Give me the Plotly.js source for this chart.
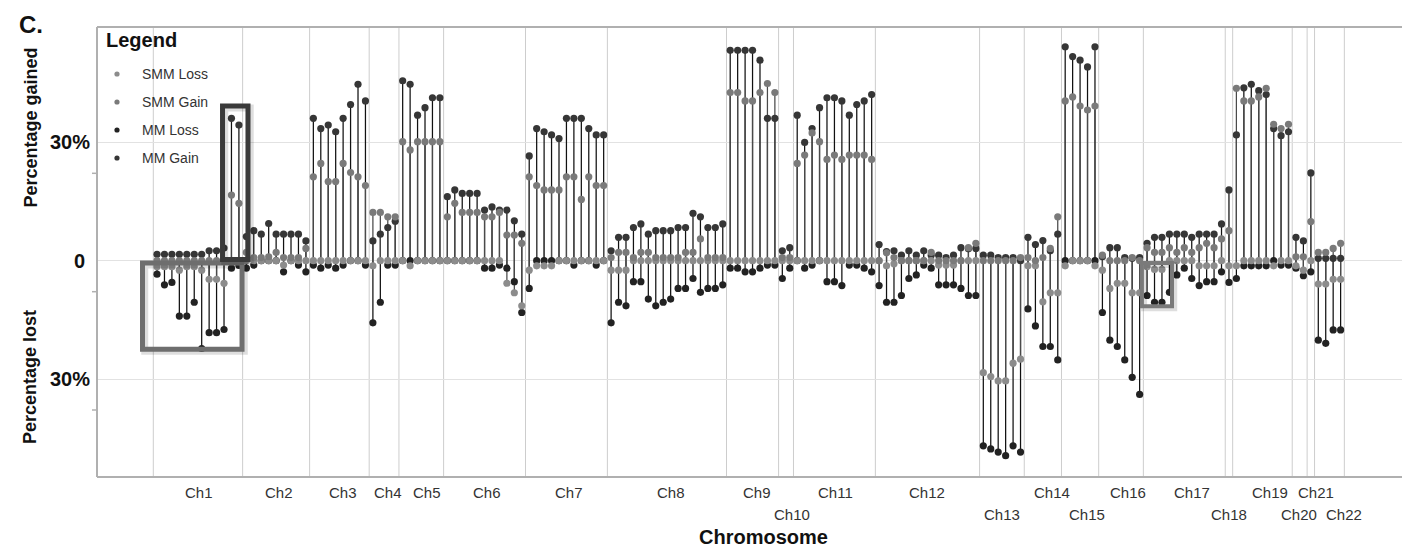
<!DOCTYPE html>
<html><head><meta charset="utf-8">
<script src="https://cdn.plot.ly/plotly-3.0.1.min.js"></script>
<style>html,body{margin:0;padding:0;background:#fff;} #chart{width:1402px;height:552px;}</style>
</head><body><div id="chart"></div>
<script>
// ---------------- DATA ----------------
const chromNames = ['Ch1','Ch2','Ch3','Ch4','Ch5','Ch6','Ch7','Ch8','Ch9','Ch10','Ch11',
  'Ch12','Ch13','Ch14','Ch15','Ch16','Ch17','Ch18','Ch19','Ch20','Ch21','Ch22'];
const chromSizes = [12,9,8,4,6,11,11,16,7,2,11,14,6,5,5,6,11,1,8,2,1,4];
const seriesNames = ['SMM Loss','SMM Gain','MM Loss','MM Gain'];
const yTickVals = [30, 0, -30];
const yTickText = ['30%', '0', '30%'];

const smmLoss = [
  -1.5,-1.5,-1.5,-2.4,-1.5,-1.5,-2.4,-4.7,-4.7,-5.7,0,0,          // Ch1
  0,0,0,0,0,-1.1,0,0,0,                                          // Ch2
  0,0,0,0,0,0,0,0,                                               // Ch3
  -1.3,0,0,0,                                                    // Ch4
  0,-1.3,0,0,0,0,                                                // Ch5
  0,0,0,0,0,0,0,0,-5.7,-8.1,-11.4,                               // Ch6
  -2.4,-1.3,-1.3,-1.3,0,0,0,0,0,0,0,                             // Ch7
  -2.4,-2.4,-2.4,0,0,0,0,0,0,0,0,0,0,0,0,0,                      // Ch8
  0,0,0,0,0,0,0,                                                 // Ch9
  0,0,                                                           // Ch10
  0,0,0,0,0,0,0,0,0,0,0,                                         // Ch11
  0,-1.3,-0.8,0,0,0,0,0,-1.1,-1.1,-1.1,0,0,0,                    // Ch12
  -28.3,-29.3,-30.4,-30.4,-25.9,-24.9,                           // Ch13
  -1.3,-1.3,-10.4,-8.1,-8.1,                                     // Ch14
  -1.3,0,0,0,-1.3,                                               // Ch15
  -2.4,-7.0,-5.7,-5.7,-8.1,-8.1,                                 // Ch16
  -1.5,-2.2,-2.2,0,0,0,0,-1.3,-1.3,-1.3,0,                       // Ch17
  -1.3,                                                          // Ch18
  -1.3,0,0,0,0,-1.3,0,0,                                         // Ch19
  -1.3,-2.4,                                                     // Ch20
  0,                                                             // Ch21
  -5.9,-5.9,-4.7,-4.7                                            // Ch22
];
const smmGain = [
  0,0,0,0,0,0,0,0,0,0,16.6,14.5,                                 // Ch1
  2.1,0.8,0.8,1.0,2.1,0.8,0.8,0.8,3.1,                           // Ch2
  21.2,24.6,20.0,20.0,24.6,22.3,21.2,19.0,                       // Ch3
  12.2,12.2,11.1,11.1,                                           // Ch4
  30.1,28.0,30.1,30.1,30.1,30.1,                                 // Ch5
  11.1,14.5,12.2,12.2,12.2,11.1,11.1,12.2,6.5,6.5,4.4,           // Ch6
  21.2,19.0,17.9,17.9,17.9,21.2,21.2,15.5,21.2,19.0,19.0,        // Ch7
  0.8,2.1,2.1,0.8,2.1,2.1,0.8,0.8,0.8,0.8,2.1,2.1,5.5,0.8,0.8,0.8, // Ch8
  42.5,42.5,40.4,40.4,42.5,44.8,42.5,                            // Ch9
  0.8,0.8,                                                       // Ch10
  24.6,26.7,32.3,30.1,25.6,26.7,25.6,26.7,26.7,26.7,25.6,        // Ch11
  0,2.0,0.8,0,0,0,0,2.1,0,0,0,0,3.3,4.4,                         // Ch12
  0,0,0,0,0,0.8,                                                 // Ch13
  0.8,0,0.8,3.1,11.1,                                            // Ch14
  40.4,41.4,39.1,38.1,39.1,                                      // Ch15
  1.4,0,0,0,0.8,0,                                               // Ch16
  3.3,2.1,2.1,3.3,2.1,3.3,2.1,3.3,4.4,3.3,5.5,                   // Ch17
  7.6,                                                           // Ch18
  43.6,40.4,40.4,41.4,43.6,34.5,33.4,34.5,                       // Ch19
  1.0,1.0,                                                       // Ch20
  9.9,                                                           // Ch21
  2.1,2.1,3.1,4.4                                                // Ch22
];
const mmLoss = [
  -3.4,-6.1,-5.5,-14.0,-14.0,-10.5,-22.2,-18.2,-18.2,-17.4,-1.9,-1.2, // Ch1
  -1.9,-1.1,0,0,0,-2.8,0,-1.1,-2.8,                              // Ch2
  -1.1,-1.9,-1.1,-1.9,-1.1,0,0,-1.1,                             // Ch3
  -15.7,-10.5,-1.1,-1.1,                                         // Ch4
  0,0,0,0,0,0,                                                   // Ch5
  0,0,0,0,0,-1.9,-1.9,-1.1,-1.9,-5.3,-13.1,                      // Ch6
  -7.0,0,0,0,0,0,-1.1,0,0,-1.1,0,                                // Ch7
  -15.7,-10.5,-11.4,-5.3,-5.3,-9.7,-11.4,-10.5,-9.7,-7.0,-7.0,-4.5,-8.0,-7.0,-7.0,-6.1, // Ch8
  -1.9,-1.9,-2.8,-2.8,-1.9,-1.1,-1.1,                            // Ch9
  -4.5,-1.9,                                                     // Ch10
  0,-1.9,-1.1,0,-5.3,-5.3,-6.3,-1.1,-1.1,-1.9,-2.8,              // Ch11
  -6.3,-10.5,-10.5,-8.8,-4.5,-3.6,-1.1,-1.9,-6.1,-6.1,-6.1,-7.0,-8.8,-8.8, // Ch12
  -46.8,-47.6,-48.4,-49.3,-46.8,-48.4,                           // Ch13
  -12.2,-16.5,-21.7,-21.7,-25.1,                                 // Ch14
  0,0,0,0,0,                                                     // Ch15
  -13.1,-20.1,-21.7,-25.1,-29.5,-33.8,                           // Ch16
  -8.8,-10.5,-10.5,-8.0,-3.6,-1.9,-4.5,-6.3,-5.3,-5.3,-2.8,      // Ch17
  -5.5,                                                          // Ch18
  -4.5,-1.3,-1.3,-1.3,-1.3,0,-1.1,-1.1,                          // Ch19
  -1.9,-3.8,                                                     // Ch20
  -2.8,                                                          // Ch21
  -20.1,-20.9,-17.5,-17.5                                        // Ch22
];
const mmGain = [
  1.6,1.6,1.6,1.6,1.6,1.6,1.6,2.5,2.5,3.2,36.0,34.3,             // Ch1
  6.1,7.6,6.7,9.4,6.7,6.7,6.7,6.7,5.0,                           // Ch2
  36.0,33.4,34.3,32.6,36.0,39.5,44.6,40.4,                       // Ch3
  5.0,6.7,8.4,10.0,                                              // Ch4
  45.5,44.6,36.8,38.7,41.2,41.2,                                 // Ch5
  16.2,17.9,17.0,17.0,17.0,12.8,13.6,12.8,12.8,10.1,6.7,         // Ch6
  26.5,33.4,32.6,31.8,30.9,36.0,36.0,36.0,33.4,31.8,31.8,        // Ch7
  2.5,5.9,5.9,8.4,9.3,6.7,7.6,7.6,7.6,8.4,8.4,12.0,11.1,8.4,8.4,9.3, // Ch8
  53.2,53.2,53.2,53.2,50.7,36.0,36.0,                            // Ch9
  2.5,3.3,                                                       // Ch10
  36.8,29.9,33.4,38.7,41.2,41.2,40.4,36.8,39.5,40.4,42.0,        // Ch11
  4.1,2.3,2.5,1.4,2.5,1.4,2.5,1.4,1.4,0.8,1.4,3.3,3.0,3.1,       // Ch12
  1.4,1.4,0.8,0.8,0.8,0,                                         // Ch13
  5.9,4.1,5.1,2.5,6.7,                                           // Ch14
  54.1,51.6,50.7,49.0,54.1,                                      // Ch15
  1.0,3.3,3.3,0.8,0.6,0.8,                                       // Ch16
  4.4,5.9,5.9,6.7,6.7,6.7,5.9,6.7,6.7,6.7,9.3,                   // Ch17
  17.9,                                                          // Ch18
  31.8,43.7,44.6,43.0,42.0,33.4,31.6,32.6,                       // Ch19
  5.9,5.0,                                                       // Ch20
  22.2,                                                          // Ch21
  0.6,0.6,0.6,0.6                                                // Ch22
];

// ---------------- LAYOUT / STYLE ----------------
const W = 1402, H = 552;
const M = {l: 97, r: 0, t: 27, b: 75};
const PW = W - M.l - M.r, PH = H - M.t - M.b;
const slotPx = 7.444, firstSlotPx = 153.3;
const xRange = [-(firstSlotPx - M.l) / slotPx, (W - firstSlotPx) / slotPx];
const yRange = [-54.69, 59.09];
const FONT = 'Liberation Sans, Arial, Helvetica, sans-serif';
const colors = {smmLoss: '#8c8c8c', smmGain: '#7a7a7a', mmLoss: '#222222', mmGain: '#363636'};
const labelPx = [199,279,343,388,427,487,569,670.5,757,792,835.5,927,1001.5,1051.5,1087,1128,1192,1228.5,1270,1299,1316,1343.5];
const labelRow = [1,1,1,1,1,1,1,1,1,2,1,1,2,1,2,1,1,2,1,2,1,2];

const px2x = px => (px - M.l) / PW;
const px2y = py => 1 - (py - M.t) / PH;

const xs = []; const bounds = [0];
let k = 0;
chromSizes.forEach(n => { for (let i = 0; i < n; i++) xs.push(k + i + 0.5); k += n; bounds.push(k); });

function stems(arrs) {
  const x = [], y = [];
  arrs.forEach(vals => vals.forEach((v, i) => { x.push(xs[i], xs[i], null); y.push(0, v, null); }));
  return {x, y};
}
const mmSt = stems([mmGain, mmLoss]);
const smmSt = stems([smmGain, smmLoss]);

const mk = (i, arr, c) => ({type: 'scatter', mode: 'markers', name: seriesNames[i], x: xs, y: arr,
  marker: {color: c, size: 7.2}, showlegend: false, hoverinfo: 'skip'});
const traces = [
  {type: 'scatter', mode: 'lines', x: mmSt.x, y: mmSt.y, line: {color: '#111111', width: 1.25}, hoverinfo: 'skip', showlegend: false},
  {type: 'scatter', mode: 'lines', x: smmSt.x, y: smmSt.y, line: {color: '#4a4a4a', width: 1.25}, hoverinfo: 'skip', showlegend: false},
  mk(2, mmLoss, colors.mmLoss),
  mk(3, mmGain, colors.mmGain),
  mk(0, smmLoss, colors.smmLoss),
  mk(1, smmGain, colors.smmGain)
];

const shapes = [];
bounds.forEach(b => shapes.push({type: 'line', xref: 'x', yref: 'paper', x0: b, x1: b, y0: 0, y1: 1,
  line: {color: '#cdcdcd', width: 1}, layer: 'below'}));
const frameC = '#b0b0b0';
shapes.push({type: 'line', xref: 'paper', yref: 'paper', x0: 0, x1: 0, y0: 0, y1: 1, line: {color: frameC, width: 2}});
shapes.push({type: 'line', xref: 'paper', yref: 'paper', x0: 0, x1: 1, y0: 1, y1: 1, line: {color: frameC, width: 2}});
shapes.push({type: 'line', xref: 'paper', yref: 'paper', x0: 0, x1: 1, y0: 0, y1: 0, line: {color: frameC, width: 2}});
[173.3, 291.7, 410].forEach(py => shapes.push({type: 'line', xref: 'paper', yref: 'paper',
  x0: px2x(92), x1: px2x(97), y0: px2y(py), y1: px2y(py), line: {color: frameC, width: 1.5}}));
const boxes = [
  {x0: -1.45, x1: 11.92, y0: -0.6, y1: -22.4, c: '#6e6e6e', w: 5},
  {x0: 9.3, x1: 12.72, y0: 0.3, y1: 39.1, c: '#3a3a3a', w: 5},
  {x0: 132.8, x1: 136.85, y0: -0.6, y1: -11.5, c: '#7a7a7a', w: 4}
];
boxes.forEach(b => {
  shapes.push({type: 'rect', xref: 'x', yref: 'y', x0: b.x0 + 0.3, x1: b.x1 + 0.3, y0: b.y0 - 0.5, y1: b.y1 - 0.5,
    line: {color: 'rgba(0,0,0,0.13)', width: b.w + 2}, layer: 'above'});
  shapes.push({type: 'rect', xref: 'x', yref: 'y', x0: b.x0, x1: b.x1, y0: b.y0, y1: b.y1,
    line: {color: b.c, width: b.w}, layer: 'above'});
});
const legColors = [colors.smmLoss, colors.smmGain, colors.mmLoss, colors.mmGain];
const legY = [74, 102, 130, 158];
legY.forEach((py, i) => shapes.push({type: 'circle', xref: 'paper', yref: 'paper', xsizemode: 'pixel', ysizemode: 'pixel',
  xanchor: px2x(117), yanchor: px2y(py), x0: -2.6, x1: 2.6, y0: -2.6, y1: 2.6,
  fillcolor: legColors[i], line: {width: 0}}));

const ann = [];
const A = (text, px, py, opts) => ann.push(Object.assign({text, x: px2x(px), y: px2y(py), xref: 'paper', yref: 'paper',
  showarrow: false, xanchor: 'center', yanchor: 'middle'}, opts));
A('<b>C.</b>', 17, 24, {xanchor: 'left', font: {family: FONT, size: 24, color: '#111'}});
A('<b>Legend</b>', 104, 40, {xanchor: 'left', font: {family: FONT, size: 20, color: '#111'}});
seriesNames.forEach((s, i) => A(s, 140, legY[i], {xanchor: 'left', font: {family: FONT, size: 14, color: '#333'}}));
const yTickPx = v => M.t + (yRange[1] - v) / (yRange[1] - yRange[0]) * PH;
yTickVals.forEach((v, i) => A('<b>' + yTickText[i] + '</b>', v === 0 ? 87 : 92, yTickPx(v), {xanchor: 'right', font: {family: FONT, size: 20, color: '#111'}}));
A('<b>Percentage gained</b>', 30, 127.5, {textangle: -90, font: {family: FONT, size: 18, color: '#111'}});
A('<b>Percentage lost</b>', 30, 377, {textangle: -90, font: {family: FONT, size: 18, color: '#111'}});
chromNames.forEach((c, i) => A(c, labelPx[i], labelRow[i] === 1 ? 492 : 514, {font: {family: FONT, size: 15, color: '#333'}}));
A('<b>Chromosome</b>', 763, 537, {font: {family: FONT, size: 20, color: '#111'}});

const layout = {
  width: W, height: H, margin: M, paper_bgcolor: '#fff', plot_bgcolor: '#fff', showlegend: false,
  xaxis: {range: xRange, showgrid: false, zeroline: false, showline: false, showticklabels: false, ticks: '', fixedrange: true},
  yaxis: {range: yRange, tickvals: yTickVals, showgrid: true, gridcolor: '#e2e2e2', gridwidth: 1, zeroline: false,
    showline: false, showticklabels: false, ticks: '', fixedrange: true},
  shapes: shapes, annotations: ann, font: {family: FONT}
};
Plotly.newPlot('chart', traces, layout, {displayModeBar: false, staticPlot: true});
</script></body></html>
